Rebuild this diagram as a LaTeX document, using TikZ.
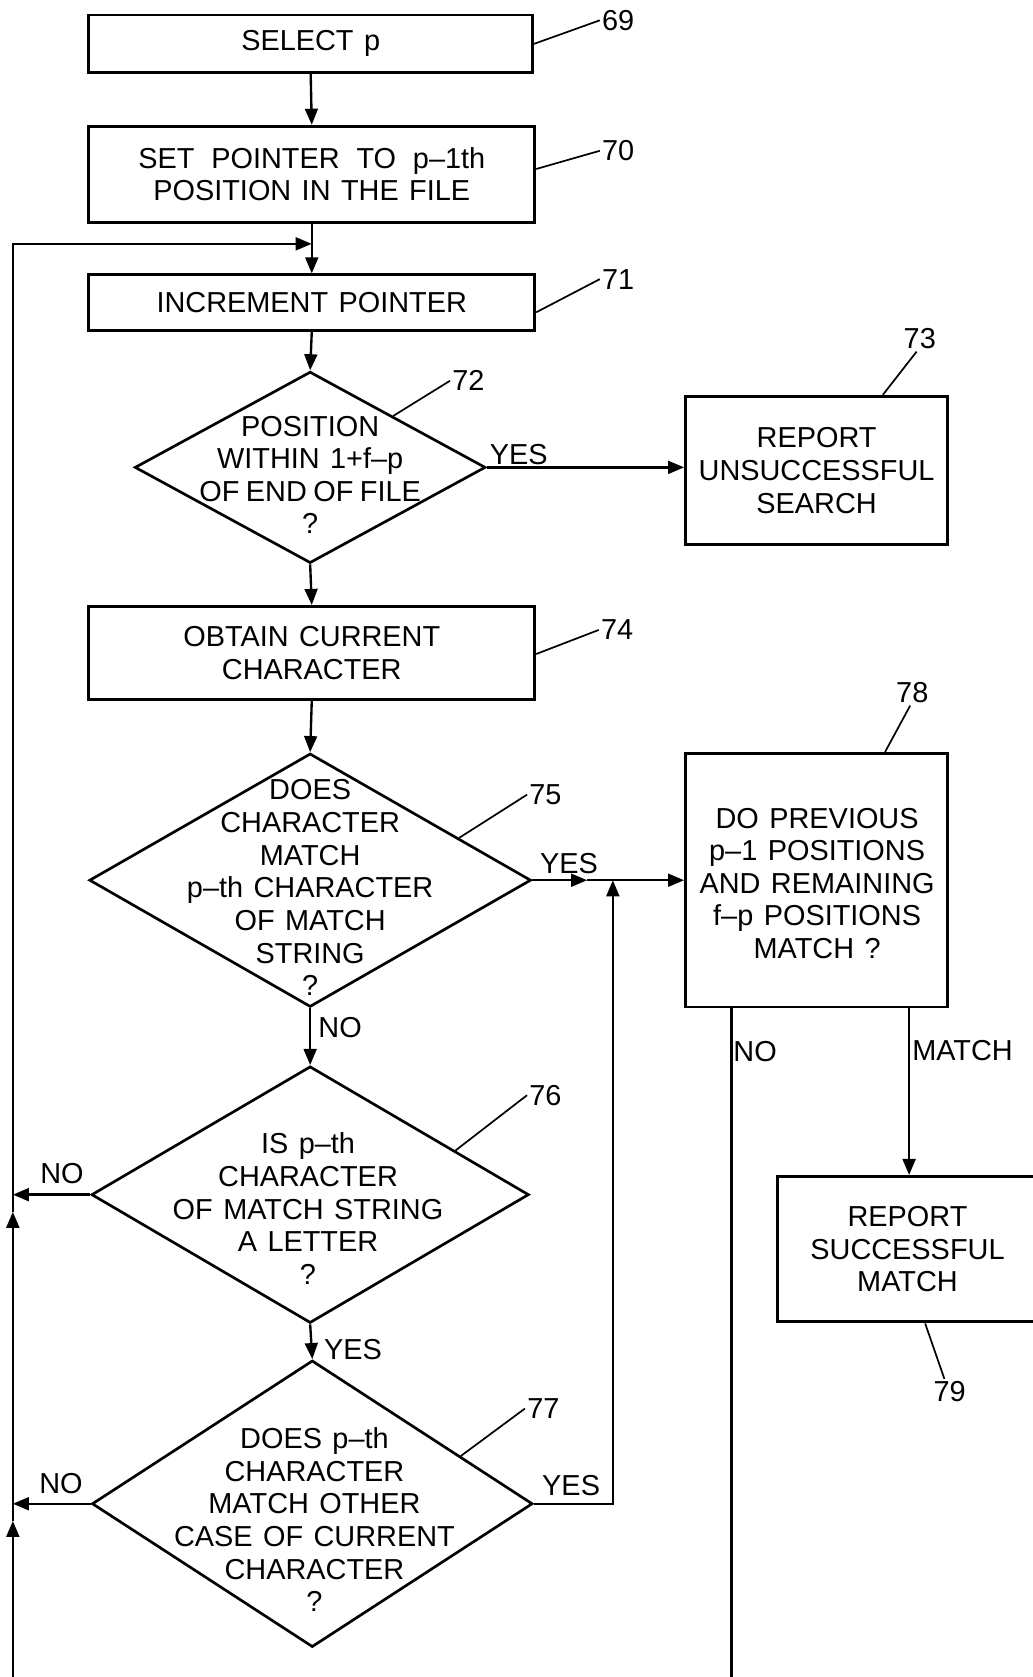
\documentclass[tikz,border=0pt]{standalone}
\usepackage{fontspec}
\setmainfont[WordSpace=1.3]{Liberation Sans}
\usetikzlibrary{arrows.meta,shapes.geometric,calc}
\newcommand\figfont{\fontsize{27}{30.5}\selectfont}
\begin{document}
\begin{tikzpicture}[x=1pt,y=-1pt,
  box/.style={draw, rectangle, line width=2.7pt, inner sep=0pt, align=center, font=\figfont},
  dia/.style={draw, diamond, line width=2.5pt, inner sep=0pt},
  txt/.style={align=center, font=\figfont, inner sep=0pt},
  num/.style={font=\figfont, inner sep=2pt},
  lead/.style={line width=1.6pt},
  arr/.style={-{Triangle[length=15pt,width=12pt]}, line width=2.2pt},
  ln/.style={line width=2.2pt}]
\useasboundingbox (0,0) rectangle (965,1568);

% boxes
\node[box, minimum width=415pt, minimum height=54pt] (b69) at (290.5,41) {SELECT p};
\node[box, minimum width=417pt, minimum height=90pt] (b70) at (291.5,163) {SET\hspace{6pt} POINTER\hspace{6pt} TO\hspace{6pt} p--1th\\POSITION IN THE FILE};
\node[box, minimum width=417pt, minimum height=52pt] (b71) at (291.5,283) {INCREMENT POINTER};
\node[box, minimum width=245pt, minimum height=139pt] (b73) at (763.5,440) {REPORT\\UNSUCCESSFUL\\SEARCH};
\node[box, minimum width=417pt, minimum height=87pt] (b74) at (291.5,610.5) {OBTAIN CURRENT\\CHARACTER};
\node[box, minimum width=245pt, minimum height=237pt] (b78) at (763.5,823) {};
\node[txt] (t78) at (764,826) {DO PREVIOUS\\p--1 POSITIONS\\AND REMAINING\\f--p POSITIONS\\MATCH ?};
\node[box, minimum width=254pt, minimum height=136pt] (b79) at (854,1168) {};
\node[txt] (t79) at (848.5,1168) {REPORT\\SUCCESSFUL\\MATCH};

% diamonds
\node[dia, minimum width=328pt, minimum height=179pt] (d72) at (290,437) {};
\node[txt] (t72) at (290,444) {POSITION\\WITHIN 1+f--p\\OF\hspace{6pt}END\hspace{6pt}OF\hspace{6pt}FILE\\?};
\node[dia, minimum width=413pt, minimum height=237pt] (d75) at (290,823) {};
\node[txt] (t75) at (290,830) {DOES\\CHARACTER\\MATCH\\p--th CHARACTER\\OF MATCH\\STRING\\?};
\node[dia, minimum width=409pt, minimum height=240pt] (d76) at (290,1117) {};
\node[txt] (t76) at (288,1130) {IS p--th\\CHARACTER\\OF MATCH STRING\\A LETTER\\?};
\node[dia, minimum width=412pt, minimum height=268pt] (d77) at (292,1406) {};
\node[txt] (t77) at (294,1421) {DOES p--th\\CHARACTER\\MATCH OTHER\\CASE OF CURRENT\\CHARACTER\\?};

% reference numerals
\node[num] (l69) at (578,19) {69};
\node[num] (l70) at (578,141) {70};
\node[num] (l71) at (578,261) {71};
\node[num] (l72) at (438,356) {72};
\node[num] (l73) at (860,317) {73};
\node[num] (l74) at (577,589) {74};
\node[num] (l75) at (510,743) {75};
\node[num] (l76) at (510,1024) {76};
\node[num] (l77) at (508,1317) {77};
\node[num] (l78) at (853,648) {78};
\node[num] (l79) at (888,1301) {79};

% leaders
\draw[lead] (b69.east) -- (l69.west);
\draw[lead] ([yshift=5pt]b70.east) -- (l70.west);
\draw[lead] ([yshift=-9pt]b71.east) -- (l71.west);
\draw[lead] ($(d72.north)!0.47!(d72.east)$) -- (l72.west);
\draw[lead] ([xshift=62pt]b73.north) -- ([xshift=-3pt]l73.south);
\draw[lead] ([yshift=-1pt]b74.east) -- (l74.west);
\draw[lead] ($(d75.north)!0.67!(d75.east)$) -- (l75.west);
\draw[lead] ($(d76.north)!0.66!(d76.east)$) -- (l76.west);
\draw[lead] ($(d77.north)!0.67!(d77.east)$) -- (l77.west);
\draw[lead] ([xshift=64pt]b78.north) -- ([xshift=-2pt]l78.south);
\draw[lead] ([xshift=11pt]b79.south) -- ([xshift=-5pt]l79.north);

% coordinates
\coordinate (lb) at (12,1568);
\coordinate (lt) at (12,228);
\coordinate (u76) at (12,1133);
\coordinate (u77) at (12,1422);
\coordinate (m75) at (549,823);
\coordinate (j) at (573,823);
\coordinate (no78) at (684,1568);
\coordinate (mt78) at (850,900);

% main flow
\draw[arr] (b69.south) -- (b70.north);
\draw[arr] (b70.south) -- (b71.north);
\draw[arr] (b71.south) -- (d72.north);
\draw[arr] (d72.east) -- (d72.east -| b73.west);
\draw[arr] (d72.south) -- (b74.north);
\draw[arr] (b74.south) -- (d75.north);
\draw[arr] (d75.east) -- (m75);
\draw[arr] (m75) -- (b78.west);
\draw[arr] (d75.south) -- (d76.north);
\draw[arr] (d76.south) -- (d77.north);
\draw[arr] (d76.west) -- (d76.west -| lb);
\draw[arr] (d77.west) -- (d77.west -| lb);
\draw[arr] (d77.east) -- (d77.east -| j) -- (j);
\draw[ln] (no78 |- b78.south) -- (no78);
\draw[arr] (mt78 |- b78.south) -- (mt78 |- b79.north);

% loop back
\draw[arr] (lb) -- (u77);
\draw[arr] (u77) -- (u76);
\draw[arr] (u76) -- (lt) -- (lt -| b71.north);

% branch labels
\node[txt] (y72) at (485,425) {YES};
\node[txt] (y75) at (532,807) {YES};
\node[txt] (n75) at (318,961) {NO};
\node[txt] (n76) at (58,1097) {NO};
\node[txt] (y76) at (330,1262) {YES};
\node[txt] (n77) at (57,1387) {NO};
\node[txt] (y77) at (534,1389) {YES};
\node[txt] (n78) at (706,983) {NO};
\node[txt] (m78) at (900,982) {MATCH};
\end{tikzpicture}
\end{document}
